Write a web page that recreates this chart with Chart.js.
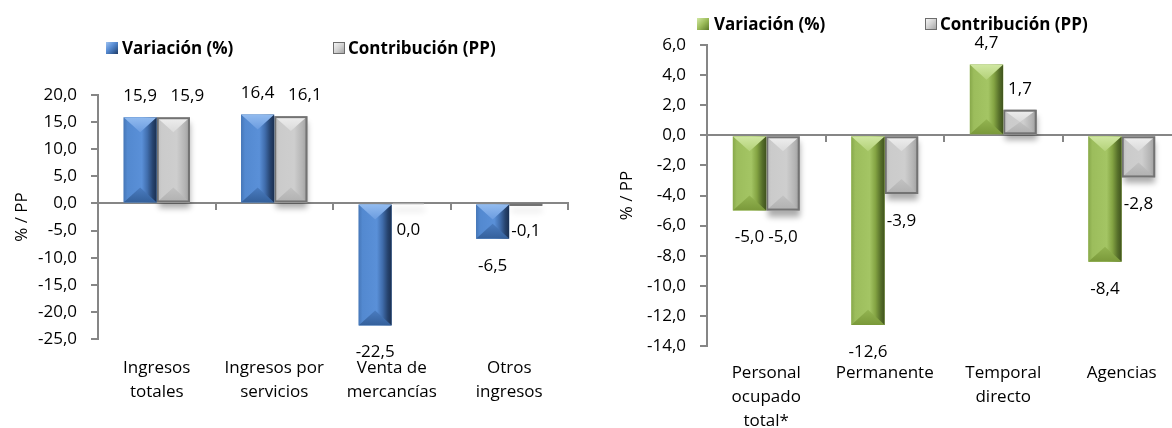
<!DOCTYPE html>
<html>
<head>
<meta charset="utf-8">
<script src="https://cdn.jsdelivr.net/npm/chart.js@4.4.1/dist/chart.umd.min.js"></script>
<style>
html,body{margin:0;padding:0;background:#fff;overflow:hidden;width:1172px;height:428px;position:relative;}
#wrapL{position:absolute;left:0;top:0;width:580px;height:428px;}
#wrapR{position:absolute;left:580px;top:0;width:620px;height:428px;}
.lg{position:absolute;font-family:"Open Sans",sans-serif;font-weight:bold;font-size:17px;line-height:24px;white-space:nowrap;color:#000;z-index:2;}
.bx{position:absolute;width:12px;height:12px;box-sizing:border-box;z-index:2;}
.blue{background:linear-gradient(135deg,#9fc2ef 0%,#5b8fd6 40%,#3a67a5 70%,#1f3a63 100%);}
.gray{background:linear-gradient(135deg,#f4f4f4 0%,#d2d2d2 50%,#a6a6a6 100%);border:1px solid #6d6d6d;}
.green{background:linear-gradient(135deg,#d2e8a3 0%,#9bbb59 50%,#5d7a2a 100%);}
</style>
</head>
<body>
<div id="wrapL"><canvas id="cL" width="580" height="428"></canvas></div>
<div id="wrapR"><canvas id="cR" width="620" height="428"></canvas></div>

<div class="bx blue" style="left:106px;top:42px;"></div>
<div class="lg" style="left:122px;top:36px;">Variación (%)</div>
<div class="bx gray" style="left:333px;top:42px;"></div>
<div class="lg" style="left:348px;top:36px;">Contribución (PP)</div>

<div class="bx green" style="left:697px;top:18px;"></div>
<div class="lg" style="left:714px;top:12px;">Variación (%)</div>
<div class="bx gray" style="left:925px;top:18px;"></div>
<div class="lg" style="left:940px;top:12px;">Contribución (PP)</div>

<script>
// ---------- DATA ----------
const categoriasIngresos = [["Ingresos","totales"],["Ingresos por","servicios"],["Venta de","mercancías"],["Otros","ingresos"]];
const variacionIngresos = [15.9, 16.4, -22.5, -6.5];
const contribucionIngresos = [15.9, 16.1, 0.0, -0.1];

const categoriasPersonal = [["Personal","ocupado","total*"],["Permanente"],["Temporal","directo"],["Agencias"]];
const variacionPersonal = [-5.0, -12.6, 4.7, -8.4];
const contribucionPersonal = [-5.0, -3.9, 1.7, -2.8];

const serieNombres = ["Variación (%)", "Contribución (PP)"];
const ejeTitulo = "% / PP";

// ---------- STYLE ----------
const fmt = v => Number(v).toFixed(1).replace('.', ',');
const AXIS = '#868686';
const BLUE = {
  body:[[0,'#4677b8'],[0.12,'#5389d0'],[0.55,'#5a90d8'],[0.72,'#406dac'],[0.88,'#26436e'],[1,'#1a2f50']],
  top:['#92bbef','#6b9ce0'], bottom:['#4a7cc0','#34609b']
};
const GREEN = {
  body:[[0,'#87a84a'],[0.12,'#9cbd5c'],[0.55,'#a4c564'],[0.72,'#84a443'],[0.88,'#566f2a'],[1,'#3f521d']],
  top:['#d0e7a2','#b3d178'], bottom:['#93b451','#7a993a']
};
const GRAY = {
  body:[[0,'#bdbdbd'],[0.15,'#cbcbcb'],[0.6,'#cecece'],[0.85,'#b4b4b4'],[1,'#9c9c9c']],
  top:['#efefef','#dadada'], bottom:['#c2c2c2','#b0b0b0'], stroke:'#737373'
};

const bevelPlugin = {
  id:'bevel',
  beforeDatasetDraw(chart, args){
    const ds = chart.data.datasets[args.index];
    if(!ds.shadow) return;
    const ctx = chart.ctx;
    ctx.save();
    ctx.shadowColor = 'rgba(0,0,0,0.33)';
    ctx.shadowBlur = 6;
    ctx.shadowOffsetY = 6;
    ctx.shadowOffsetX = 1;
    args.meta.data.forEach(el => {
      const p = el.getProps(['x','y','base','width'], true);
      const t = Math.min(p.y,p.base), b = Math.max(p.y,p.base);
      ctx.fillStyle = 'rgba(200,200,200,1)';
      ctx.fillRect(p.x - p.width/2 + 1, t, p.width - 2, Math.max(b - t, 1));
    });
    ctx.restore();
  },
  afterDatasetDraw(chart, args){
    const ds = chart.data.datasets[args.index];
    const bv = ds.bevel; if(!bv) return;
    const ctx = chart.ctx;
    args.meta.data.forEach((el, i) => {
      const p = el.getProps(['x','y','base','width'], true);
      const L = p.x - p.width/2, R = p.x + p.width/2;
      const T = Math.min(p.y,p.base), B = Math.max(p.y,p.base);
      const w = R - L, h = B - T;
      if (ds.data[i] === 0) return;
      if (h > 1.5) {
        ctx.save();
        ctx.beginPath(); ctx.rect(L, T, w, h); ctx.clip();
        const g = ctx.createLinearGradient(L,0,R,0);
        bv.body.forEach(s => g.addColorStop(s[0], s[1]));
        ctx.fillStyle = g; ctx.fillRect(L, T, w, h);
        const d = Math.min(w*0.45, h/2);
        const gt = ctx.createLinearGradient(0,T,0,T+d);
        gt.addColorStop(0,bv.top[0]); gt.addColorStop(1,bv.top[1]);
        ctx.fillStyle = gt;
        ctx.beginPath(); ctx.moveTo(L,T); ctx.lineTo(R,T); ctx.lineTo(p.x,T+d); ctx.closePath(); ctx.fill();
        const gb = ctx.createLinearGradient(0,B-d,0,B);
        gb.addColorStop(0,bv.bottom[0]); gb.addColorStop(1,bv.bottom[1]);
        ctx.fillStyle = gb;
        ctx.beginPath(); ctx.moveTo(L,B); ctx.lineTo(R,B); ctx.lineTo(p.x,B-d); ctx.closePath(); ctx.fill();
        ctx.restore();
      }
      if (bv.stroke) {
        ctx.save();
        ctx.strokeStyle = bv.stroke; ctx.lineWidth = 2;
        if (h > 2) ctx.strokeRect(L+1, T+1, w-2, h-2);
        else { ctx.fillStyle = bv.stroke; ctx.fillRect(L, T - 0.5, w, Math.max(h, 2.5)); }
        ctx.restore();
      }
    });
  }
};

const labelPlugin = {
  id:'vlabels',
  afterDatasetsDraw(chart, args, opts){
    const ctx = chart.ctx;
    ctx.save();
    ctx.font = '17px "Open Sans", sans-serif';
    ctx.fillStyle = '#000';
    ctx.textAlign = 'center';
    ctx.textBaseline = 'middle';
    chart.data.datasets.forEach((ds, di) => {
      const meta = chart.getDatasetMeta(di);
      meta.data.forEach((el, i) => {
        const v = ds.data[i];
        const pos = v > 0;
        const shift = (pos && opts.posShift) ? opts.posShift[di] : 0;
        const y = pos ? el.y - 21 : el.y + 27;
        ctx.fillText(fmt(v), el.x + shift, y);
      });
    });
    ctx.restore();
  }
};

function makeChart(id, labels, s1, s2, bev1, color1, cfg){
  return new Chart(document.getElementById(id), {
    type:'bar',
    data:{
      labels: labels,
      datasets:[
        {label: serieNombres[0], data: s1, backgroundColor: color1, bevel: bev1, xAxisID:'x', yAxisID:'y'},
        {label: serieNombres[1], data: s2, backgroundColor: '#c8c8c8', bevel: GRAY, shadow: true, xAxisID:'x', yAxisID:'y'}
      ]
    },
    options:{
      responsive:false, animation:false, devicePixelRatio:1,
      layout:{padding:{left:0, right:cfg.padRight, top:cfg.padTop, bottom:0}},
      datasets:{bar:{categoryPercentage:0.565, barPercentage:1, borderWidth:0}},
      plugins:{legend:{display:false}, tooltip:{enabled:false}, vlabels:{posShift:cfg.posShift}},
      scales:{
        x:{type:'category', position:'bottom', offset:true,
           grid:{display:false, drawTicks:false}, border:{display:false},
           ticks:{padding:cfg.xPad, color:'#000', font:{size:17, lineHeight:'24px'}, maxRotation:0, autoSkip:false},
           afterFit(s){ s.height = cfg.xHeight; }},
        x0:{type:'category', axis:'x', position:{y:0}, offset:true,
           grid:{offset:true, drawOnChartArea:false, drawTicks:true, tickLength:6, color:AXIS, lineWidth:2},
           border:{display:true, color:AXIS, width:2},
           ticks:{display:false}},
        y:{type:'linear', position:'left', min:cfg.min, max:cfg.max,
           ticks:{stepSize:cfg.step, callback:v => fmt(v), padding:14, color:'#000', font:{size:17}},
           grid:{drawOnChartArea:false, drawTicks:true, tickLength:7, color:AXIS, lineWidth:2},
           border:{display:true, color:AXIS, width:2},
           title:{display:true, text:ejeTitulo, color:'#000', font:{size:17}, padding:{top:cfg.titlePad, bottom:0}},
           afterFit(s){ s.width = cfg.yWidth; }}
      }
    },
    plugins:[bevelPlugin, labelPlugin]
  });
}

function init(){
  Chart.defaults.font.family = '"Open Sans", sans-serif';
  makeChart('cL', categoriasIngresos, variacionIngresos, contribucionIngresos, BLUE, '#4f81bd',
    {padRight:12, padTop:95, xHeight:89, xPad:17, min:-25, max:20, step:5, yWidth:98, titlePad:12, posShift:[0,14]});
  makeChart('cR', categoriasPersonal, variacionPersonal, contribucionPersonal, GREEN, '#9bbb59',
    {padRight:19, padTop:45, xHeight:82, xPad:15, min:-14, max:6, step:2, yWidth:127, titlePad:37, posShift:[0,0]});
}
if (document.fonts && document.fonts.load) {
  Promise.all([document.fonts.load('17px "Open Sans"'), document.fonts.load('bold 17px "Open Sans"')]).then(init, init);
} else { init(); }
</script>
</body>
</html>
